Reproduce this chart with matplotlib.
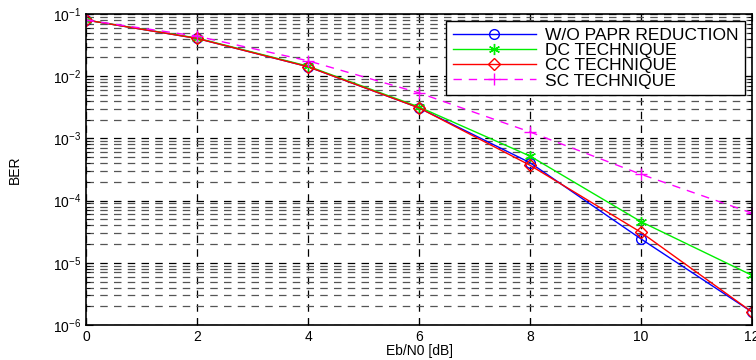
import numpy as np
from matplotlib import pyplot as plt
from matplotlib.ticker import LogLocator, NullFormatter

plt.rcParams['font.family'] = ['Liberation Sans', 'DejaVu Sans']
plt.rcParams['mathtext.fontset'] = 'custom'
plt.rcParams['mathtext.rm'] = 'Liberation Sans'
plt.rcParams['mathtext.it'] = 'Liberation Sans:italic'
plt.rcParams['mathtext.bf'] = 'Liberation Sans:bold'

ebn0 = [0, 2, 4, 6, 8, 10, 12]

ber_wo = [0.080, 0.0405, 0.0142, 0.0031, 4.07e-4, 2.42e-5, 1.62e-6]
ber_dc = [0.080, 0.0410, 0.0145, 0.0032, 5.2e-4, 4.58e-5, 6.3e-6]
ber_cc = [0.080, 0.0405, 0.0142, 0.0031, 3.7e-4, 3.09e-5, 1.62e-6]
ber_sc = [0.080, 0.0440, 0.0177, 0.0054, 1.27e-3, 2.65e-4, 6.3e-5]

labels = ['W/O PAPR REDUCTION', 'DC TECHNIQUE', 'CC TECHNIQUE', 'SC TECHNIQUE']

fig = plt.figure(figsize=(7.56, 3.6), dpi=100)
ax = fig.add_axes([0.1138, 0.0972, 0.8809, 0.8639])

ax.semilogy(ebn0, ber_wo, color='blue', marker='o', mfc='none', ms=7, lw=1, label=labels[0])
ax.semilogy(ebn0, ber_dc, color='#00ee00', marker=(6, 2, 0), ms=8, lw=1, label=labels[1])
ax.semilogy(ebn0, ber_cc, color='red', marker='D', mfc='none', ms=6, lw=1, label=labels[2])
ax.semilogy(ebn0, ber_sc, color='magenta', marker='+', ms=8, lw=1, ls=(0, (6, 5)), label=labels[3])

ax.set_xlim(0, 12)
ax.set_ylim(1e-6, 1e-1)
ax.set_xticks(ebn0)
ax.yaxis.set_major_locator(LogLocator(base=10, numticks=10))
ax.yaxis.set_minor_locator(LogLocator(base=10, subs=np.arange(2, 10), numticks=20))
ax.yaxis.set_minor_formatter(NullFormatter())

ax.grid(True, which='major', axis='both', color='black', ls=(0, (6, 5)), lw=0.9)
ax.grid(True, which='minor', axis='y', color='#555555', ls=(0, (6, 5)), lw=0.9)

ax.tick_params(which='both', direction='in', top=True, right=True, labelsize=10)
ax.tick_params(which='major', length=5)
ax.tick_params(which='minor', length=3)
for s in ax.spines.values():
    s.set_linewidth(1.2)

ax.set_xlabel('Eb/N0 [dB]', fontsize=10, labelpad=0)
ax.set_ylabel('BER', fontsize=10, labelpad=22)

leg = ax.legend(loc='upper right', fontsize=12.5, fancybox=False, framealpha=1,
                edgecolor='black', borderaxespad=0.4, handlelength=4.8,
                handletextpad=0.5, labelspacing=0.0, borderpad=0.4)
leg.get_frame().set_linewidth(1)

fig.savefig('out.png', dpi=100)
